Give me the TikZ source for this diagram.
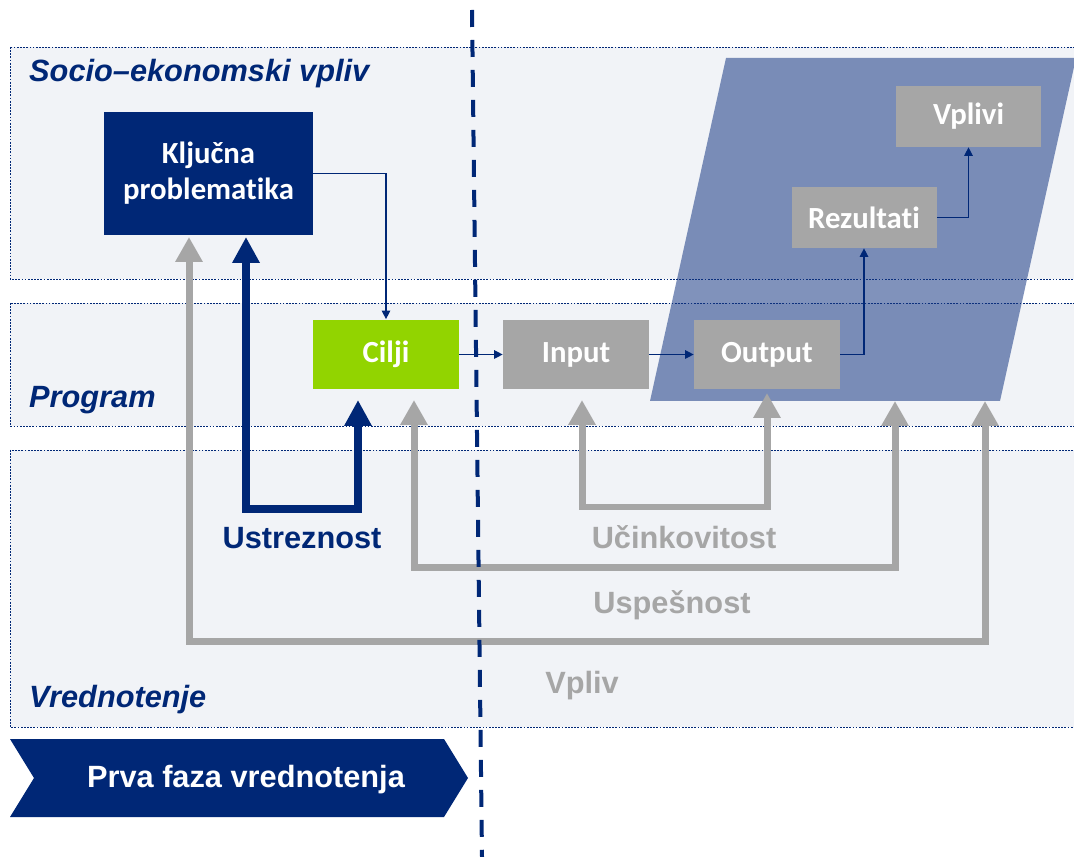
\documentclass[tikz,border=0pt]{standalone}
\usepackage{fontspec}
\setmainfont{Liberation Sans}
\newfontfamily\boxfont[RawFeature=-liga]{Carlito}
\usepackage{tikz}
\usetikzlibrary{arrows.meta}
\definecolor{evalblue}{RGB}{0,39,118}
\definecolor{bandbg}{RGB}{241,243,247}
\definecolor{boxgray}{RGB}{166,166,166}
\definecolor{ciljgreen}{RGB}{146,212,0}
\definecolor{slab}{RGB}{23,56,131}
\newcommand{\lblfont}{\fontsize{17.5}{20.5}\selectfont\bfseries}

\tikzset{
  band/.style = {draw=evalblue, line width=0.4pt, dash pattern=on 1pt off 0.8pt, fill=bandbg},
  bandlabel/.style = {anchor=base west, text=evalblue, font=\lblfont\itshape},
  stage/.style = {fill=boxgray, text=white, minimum width=2.92cm, minimum height=1.4cm, inner sep=0pt, font=\boxfont\lblfont},
  flow/.style = {draw=evalblue, line width=0.7pt, -{Triangle[length=0.17cm, width=0.17cm]}},
  loopgray/.style = {draw=boxgray, line width=0.14cm, {Triangle[length=0.5cm, width=0.52cm]}-{Triangle[length=0.5cm, width=0.52cm]}},
  loopblue/.style = {draw=evalblue, line width=0.16cm, {Triangle[length=0.52cm, width=0.52cm]}-{Triangle[length=0.52cm, width=0.52cm]}},
  looplabel/.style = {anchor=base, font=\lblfont}
}

\begin{document}
\begin{tikzpicture}[x=0.02cm, y=-0.02cm]
            \clip (0,0) rectangle (1074,857);
            \draw[band] (10,47) rectangle (1090,279);
            \draw[band] (10,303) rectangle (1090,426);
            \draw[band] (10,450) rectangle (1090,727);
            \fill[slab, fill opacity=0.55] (650,401) -- (1000,401) -- (1076,58) -- (726,58) -- cycle;

            \node (soc) at (23,82) [bandlabel] {Socio–ekonomski vpliv};
            \node (prog) at (23,408) [bandlabel] {Program};
            \node (vred) at (23,707) [bandlabel] {Vrednotenje};

            \node (kp) at (208.5,173.5) [stage, fill=evalblue, minimum width=4.18cm, minimum height=2.46cm, align=center] {Ključna\\problematika};
            \node (cilji) at (386,354.5) [stage, fill=ciljgreen] {Cilji};
            \node (input) at (576,354.5) [stage] {Input};
            \node (output) at (767,354.5) [stage] {Output};
            \node (rez) at (864,217.5) [stage, minimum width=2.9cm, minimum height=1.22cm] {Rezultati};
            \node (vplivi) at (968.5,116.5) [stage, minimum width=2.9cm, minimum height=1.22cm] {Vplivi};

            \draw[flow] (kp) -| (cilji);
            \draw[flow] (cilji) -- (input);
            \draw[flow] (input) -- (output);
            \draw[flow] (output) -| (rez);
            \draw[flow] (rez) -| (vplivi);

            \coordinate (kpL) at (189,237);
            \coordinate (kpR) at (246,237);
            \coordinate (ciljiL) at (358,400);
            \coordinate (ciljiR) at (414,400);
            \coordinate (inputB) at (582,400);
            \coordinate (outputB) at (767,393);
            \coordinate (slabL) at (895,401);
            \coordinate (slabR) at (985,401);
            \draw[loopgray] (inputB) -- ++(0,107) -| (outputB);
            \draw[loopgray] (ciljiR) -- ++(0,167) -| (slabL);
            \draw[loopgray] (kpL) -- ++(0,404) -| (slabR);
            \draw[loopblue] (kpR) -- ++(0,272) -| (ciljiL);

            \node (ustr) at (302,548) [looplabel, text=evalblue] {Ustreznost};
            \node (ucin) at (684,548) [looplabel, text=boxgray] {Učinkovitost};
            \node (usp) at (672,613) [looplabel, text=boxgray] {Uspešnost};
            \node (vpl) at (582,693) [looplabel, text=boxgray] {Vpliv};

            \fill[evalblue] (10,739) -- (444,739) -- (468,778) -- (444,817) -- (10,817) -- (34,778) -- cycle;
            \node (faza) at (246,787) [looplabel, text=white] {Prva faza vrednotenja};

            \draw[evalblue, line width=0.08cm, dash pattern=on 0.34cm off 0.26cm] (472,10) -- (482,857);
          \end{tikzpicture}
\end{document}
